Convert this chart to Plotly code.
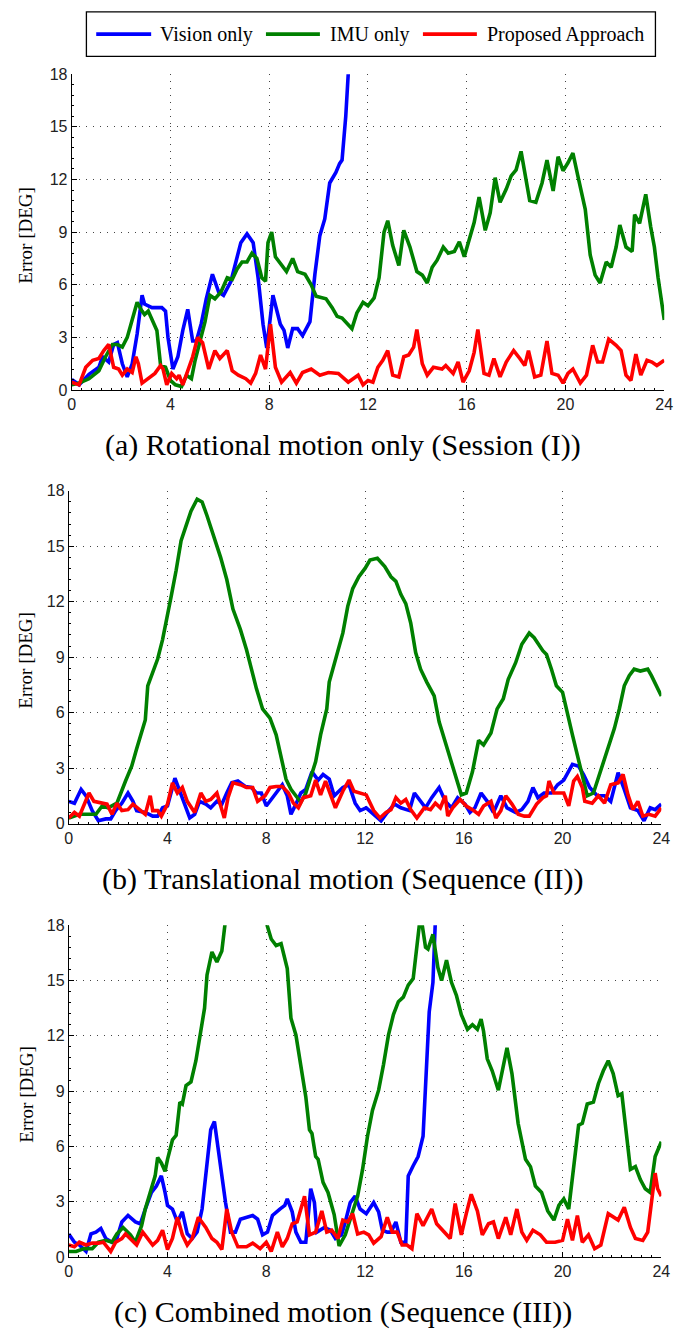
import plotly.graph_objects as go

# ---------------- data (time [s], error [deg]) ----------------
# (a) Rotational motion only
a_vis_t = [0, 0.3, 0.7, 1.1, 1.25, 1.5, 1.7, 1.85, 2.05, 2.25, 2.45, 2.65, 2.85, 2.95, 3.25, 3.65, 3.8, 3.9, 4.1, 4.3, 4.5, 4.7, 4.9, 5.05, 5.25, 5.45, 5.7, 5.95, 6.15, 6.45, 6.85, 7.1, 7.35, 7.55, 7.75, 7.9, 8.15, 8.45, 8.6, 8.75, 8.95, 9.15, 9.35, 9.65, 9.85, 10.05, 10.25, 10.45, 10.7, 10.85, 10.95, 11.1, 11.2, 11.3]
a_vis_e = [0.6, 0.3, 0.9, 1.3, 1.9, 1.6, 2.6, 2.7, 1.5, 0.75, 1.5, 3.2, 5.4, 4.9, 4.7, 4.7, 4.5, 3.0, 1.2, 1.9, 3.4, 4.6, 2.8, 2.8, 3.8, 5.2, 6.6, 5.6, 5.4, 6.2, 8.4, 8.9, 8.4, 6.4, 3.75, 2.4, 5.4, 3.75, 3.4, 2.4, 3.5, 3.5, 3.1, 3.9, 6.6, 8.8, 9.75, 11.8, 12.4, 12.9, 13.1, 15.6, 18.0, 19.5]

a_imu_t = [0, 0.3, 0.7, 1.1, 1.37, 1.65, 1.85, 2.05, 2.25, 2.45, 2.65, 2.85, 2.95, 3.1, 3.3, 3.45, 3.6, 3.8, 4.0, 4.2, 4.45, 4.65, 4.85, 5.0, 5.2, 5.4, 5.6, 5.8, 6.05, 6.3, 6.5, 6.7, 6.9, 7.1, 7.3, 7.5, 7.7, 7.85, 7.95, 8.1, 8.25, 8.5, 8.7, 8.95, 9.15, 9.45, 9.7, 9.9, 10.3, 10.55, 10.75, 10.95, 11.1, 11.35, 11.55, 11.8, 12.0, 12.25, 12.45, 12.65, 12.8, 13.0, 13.25, 13.45, 13.7, 13.98, 14.2, 14.4, 14.6, 14.8, 15.05, 15.25, 15.5, 15.7, 15.9, 16.1, 16.3, 16.5, 16.75, 16.95, 17.15, 17.35, 17.6, 17.8, 18.0, 18.2, 18.55, 18.8, 19.05, 19.25, 19.5, 19.7, 19.9, 20.1, 20.3, 20.5, 20.8, 21.0, 21.2, 21.4, 21.65, 21.85, 22.05, 22.2, 22.45, 22.7, 22.8, 23.0, 23.25, 23.45, 23.6, 23.75, 23.9, 24.0]
a_imu_e = [0.3, 0.4, 0.65, 1.1, 1.9, 2.6, 2.6, 2.45, 3.0, 4.1, 5.0, 4.5, 4.3, 4.5, 3.9, 3.4, 1.4, 1.3, 0.55, 0.3, 0.2, 0.85, 0.65, 1.7, 2.8, 3.9, 5.4, 5.2, 5.6, 6.4, 6.3, 6.9, 7.3, 7.3, 7.8, 7.5, 6.4, 6.2, 8.4, 9.0, 7.6, 7.1, 6.75, 7.5, 6.75, 6.6, 6.0, 5.35, 5.2, 4.7, 4.2, 4.1, 3.9, 3.5, 4.4, 5.0, 4.8, 5.25, 6.4, 9.0, 9.65, 8.25, 7.1, 9.1, 8.15, 6.75, 6.55, 6.1, 7.0, 7.4, 8.15, 7.8, 7.9, 8.45, 7.6, 8.6, 9.55, 11.0, 9.1, 10.1, 12.1, 10.7, 11.45, 12.2, 12.55, 13.6, 10.8, 10.7, 11.8, 13.1, 11.35, 13.3, 12.5, 12.95, 13.5, 12.2, 10.3, 7.7, 6.55, 6.1, 7.3, 7.0, 8.15, 9.4, 8.15, 7.9, 10.0, 9.5, 11.15, 9.3, 8.15, 6.4, 4.9, 4.0]

a_pro_t = [0, 0.3, 0.57, 0.85, 1.1, 1.3, 1.5, 1.7, 1.9, 2.05, 2.25, 2.45, 2.6, 2.7, 2.85, 3.1, 3.37, 3.6, 3.7, 3.85, 4.05, 4.25, 4.35, 4.5, 4.7, 4.9, 5.1, 5.3, 5.55, 5.8, 6.0, 6.15, 6.3, 6.5, 6.75, 7.05, 7.25, 7.45, 7.65, 7.85, 8.05, 8.25, 8.5, 8.85, 9.1, 9.35, 9.7, 10.05, 10.4, 10.8, 11.2, 11.6, 11.8, 12.0, 12.2, 12.4, 12.6, 12.8, 13.0, 13.25, 13.45, 13.65, 13.85, 13.98, 14.2, 14.4, 14.65, 15.0, 15.15, 15.45, 15.65, 15.85, 16.1, 16.3, 16.45, 16.7, 16.9, 17.1, 17.35, 17.6, 17.9, 18.15, 18.35, 18.5, 18.75, 19.0, 19.25, 19.45, 19.7, 19.9, 20.1, 20.3, 20.6, 20.85, 21.1, 21.3, 21.5, 21.75, 22.05, 22.25, 22.45, 22.65, 22.85, 23.05, 23.3, 23.5, 23.7, 24.0]
a_pro_e = [0.45, 0.3, 1.3, 1.7, 1.8, 2.25, 2.6, 1.3, 1.2, 0.85, 1.2, 1.0, 1.9, 1.5, 0.4, 0.65, 0.95, 1.4, 1.2, 0.3, 0.95, 0.65, 0.85, 0.3, 1.1, 1.9, 3.0, 2.7, 1.2, 2.25, 1.8, 2.0, 2.25, 1.1, 0.85, 0.65, 0.4, 0.95, 2.0, 1.2, 3.75, 1.3, 0.45, 1.0, 0.4, 1.0, 1.2, 0.85, 1.0, 0.95, 0.45, 0.85, 0.3, 0.55, 0.45, 1.3, 1.7, 2.25, 0.85, 0.75, 1.9, 2.0, 2.45, 3.45, 1.5, 0.85, 1.3, 1.2, 1.4, 0.95, 1.6, 0.45, 1.1, 2.15, 3.45, 0.95, 0.85, 1.8, 0.75, 1.6, 2.25, 1.8, 1.4, 2.25, 0.75, 0.85, 2.8, 0.95, 0.85, 0.4, 0.95, 1.2, 0.4, 0.85, 2.55, 1.6, 1.6, 2.9, 2.55, 2.25, 0.85, 0.55, 2.05, 0.85, 1.7, 1.6, 1.4, 1.7]

# (b) Translational motion
b_vis_t = [0, 0.23, 0.5, 0.7, 0.95, 1.2, 1.5, 1.7, 1.9, 2.15, 2.4, 2.6, 2.75, 3.1, 3.4, 3.6, 3.8, 4.0, 4.3, 4.5, 4.7, 4.9, 5.1, 5.3, 5.55, 5.75, 6.0, 6.2, 6.4, 6.6, 6.85, 7.15, 7.4, 7.6, 7.8, 8.0, 8.2, 8.45, 8.65, 8.85, 9.0, 9.2, 9.4, 9.6, 9.85, 10.1, 10.3, 10.55, 10.75, 11.1, 11.35, 11.6, 11.8, 12.05, 12.35, 12.65, 12.9, 13.2, 13.45, 13.8, 14.0, 14.25, 14.45, 14.7, 15.0, 15.25, 15.5, 15.75, 16.05, 16.25, 16.45, 16.7, 16.95, 17.2, 17.5, 17.75, 18.1, 18.35, 18.6, 18.8, 19.0, 19.25, 19.55, 19.8, 20.05, 20.4, 20.65, 20.85, 21.1, 21.4, 21.7, 21.95, 22.25, 22.5, 22.75, 23.05, 23.3, 23.55, 23.75, 24.0]
b_vis_e = [1.2, 1.1, 1.85, 1.5, 0.7, 0.15, 0.25, 0.25, 0.7, 1.1, 1.65, 1.2, 0.7, 0.6, 0.4, 0.4, 0.85, 0.95, 2.45, 1.75, 1.05, 0.3, 0.5, 1.2, 1.05, 0.85, 1.2, 1.05, 1.65, 2.2, 2.3, 2.0, 1.95, 1.65, 1.65, 0.95, 1.3, 1.75, 2.1, 1.5, 0.5, 1.05, 1.65, 1.85, 2.8, 2.35, 2.65, 2.4, 1.5, 1.95, 2.1, 1.1, 0.7, 0.85, 0.5, 0.15, 0.6, 1.05, 0.85, 0.7, 1.65, 1.2, 0.85, 1.4, 1.95, 1.2, 0.85, 1.4, 1.05, 0.6, 0.85, 1.65, 1.2, 0.6, 1.5, 0.85, 0.6, 0.75, 1.2, 1.95, 1.4, 1.65, 1.65, 2.1, 2.35, 3.2, 3.1, 2.65, 1.95, 1.5, 1.5, 1.2, 2.75, 1.85, 0.85, 0.7, 0.15, 0.85, 0.75, 1.05]

b_imu_t = [0, 0.23, 0.43, 1.1, 1.35, 1.6, 1.95, 2.3, 2.55, 2.75, 2.95, 3.1, 3.2, 3.4, 3.6, 3.8, 4.0, 4.15, 4.35, 4.55, 4.75, 4.95, 5.2, 5.4, 5.6, 5.9, 6.15, 6.4, 6.65, 6.95, 7.2, 7.4, 7.6, 7.85, 8.15, 8.4, 8.6, 8.8, 9.0, 9.25, 9.4, 9.6, 9.8, 10.0, 10.2, 10.45, 10.55, 10.8, 11.1, 11.3, 11.5, 11.75, 12.0, 12.2, 12.5, 12.8, 13.05, 13.25, 13.45, 13.65, 13.85, 14.05, 14.25, 14.5, 14.8, 15.0, 15.25, 15.5, 15.75, 15.9, 16.1, 16.35, 16.6, 16.8, 17.1, 17.35, 17.6, 17.8, 18.1, 18.35, 18.65, 18.85, 19.2, 19.35, 19.55, 19.75, 20.0, 20.2, 20.4, 20.6, 20.8, 21.0, 21.25, 21.45, 21.7, 21.9, 22.1, 22.3, 22.5, 22.7, 22.9, 23.15, 23.45, 23.6, 23.8, 24.0]
b_imu_e = [0.3, 0.4, 0.5, 0.5, 0.95, 0.85, 1.1, 2.3, 3.1, 4.05, 4.95, 5.6, 7.45, 8.2, 8.9, 9.95, 11.2, 12.3, 13.7, 15.3, 16.1, 16.9, 17.55, 17.4, 16.65, 15.5, 14.4, 13.2, 11.6, 10.5, 9.4, 8.35, 7.3, 6.2, 5.7, 4.8, 3.5, 2.4, 1.85, 1.4, 1.15, 1.65, 2.45, 3.35, 4.8, 6.2, 7.65, 8.9, 10.3, 11.75, 12.7, 13.35, 13.8, 14.25, 14.35, 13.9, 13.35, 13.1, 12.4, 11.9, 10.85, 9.25, 8.35, 7.65, 6.9, 5.5, 4.4, 3.2, 2.1, 1.55, 1.65, 2.8, 4.5, 4.25, 4.9, 6.2, 6.75, 7.8, 8.7, 9.7, 10.3, 10.05, 9.35, 9.15, 8.35, 7.45, 7.1, 5.85, 4.8, 3.7, 2.65, 1.5, 1.65, 2.45, 3.55, 4.25, 5.15, 6.2, 7.45, 8.0, 8.35, 8.25, 8.35, 8.0, 7.45, 6.9]

b_pro_t = [0, 0.23, 0.43, 0.62, 0.82, 1.02, 1.3, 1.55, 1.75, 1.95, 2.15, 2.4, 2.6, 2.9, 3.1, 3.3, 3.4, 3.6, 3.75, 4.0, 4.2, 4.4, 4.6, 4.8, 5.1, 5.35, 5.55, 5.75, 6.0, 6.3, 6.45, 6.65, 6.95, 7.2, 7.45, 7.65, 7.95, 8.15, 8.4, 8.65, 8.9, 9.1, 9.3, 9.5, 9.8, 10.0, 10.2, 10.4, 10.6, 10.8, 11.1, 11.35, 11.55, 11.8, 12.05, 12.35, 12.6, 12.85, 13.05, 13.25, 13.45, 13.65, 13.85, 14.1, 14.4, 14.65, 14.85, 15.05, 15.25, 15.35, 15.55, 15.85, 16.1, 16.35, 16.6, 16.8, 17.1, 17.3, 17.5, 17.7, 17.95, 18.2, 18.45, 18.65, 18.95, 19.2, 19.35, 19.45, 19.65, 19.85, 20.05, 20.25, 20.45, 20.6, 20.8, 20.9, 21.2, 21.45, 21.7, 21.95, 22.25, 22.45, 22.65, 22.85, 23.05, 23.25, 23.5, 23.75, 24.0]
b_pro_e = [0.3, 0.6, 0.4, 1.05, 1.65, 1.2, 1.1, 1.05, 0.5, 1.1, 0.7, 0.75, 1.05, 0.7, 0.5, 1.5, 0.7, 0.7, 0.4, 1.05, 2.2, 1.65, 1.95, 1.2, 0.6, 1.65, 1.2, 1.3, 1.65, 0.3, 1.4, 2.2, 2.1, 1.95, 1.95, 1.2, 1.5, 1.95, 2.0, 2.0, 1.65, 1.1, 0.85, 1.4, 1.5, 2.35, 1.55, 2.3, 1.6, 0.85, 1.75, 2.35, 1.75, 1.65, 1.55, 0.7, 0.3, 0.6, 0.75, 1.4, 1.1, 1.3, 0.75, 0.3, 0.85, 0.75, 1.1, 0.85, 1.5, 0.4, 0.85, 1.3, 0.95, 0.75, 0.5, 0.95, 1.2, 0.3, 0.7, 1.5, 1.05, 0.5, 0.4, 0.4, 1.05, 1.4, 1.5, 2.3, 1.65, 1.65, 1.65, 0.95, 2.3, 2.55, 1.95, 1.2, 1.1, 1.5, 1.1, 2.1, 2.2, 2.65, 1.55, 0.75, 1.2, 0.4, 0.5, 0.4, 0.85]

# (c) Combined motion
c_vis_t = [0, 0.23, 0.43, 0.7, 0.9, 1.1, 1.3, 1.5, 1.75, 1.95, 2.15, 2.4, 2.7, 2.9, 3.1, 3.35, 3.55, 3.75, 3.9, 4.0, 4.2, 4.4, 4.6, 4.8, 5.0, 5.2, 5.4, 5.6, 5.75, 5.9, 6.05, 6.2, 6.35, 6.55, 6.75, 6.95, 7.2, 7.45, 7.65, 7.85, 8.05, 8.25, 8.55, 8.75, 8.85, 9.05, 9.2, 9.4, 9.6, 9.8, 9.95, 10.05, 10.35, 10.6, 10.8, 11.05, 11.2, 11.4, 11.6, 11.8, 12.05, 12.35, 12.55, 12.7, 12.9, 13.05, 13.25, 13.45, 13.65, 13.75, 13.95, 14.15, 14.35, 14.5, 14.6, 14.75, 14.8, 14.9]
c_vis_e = [1.25, 0.8, 0.65, 0.3, 1.25, 1.35, 1.55, 1.0, 0.8, 1.0, 1.9, 2.25, 1.9, 1.8, 2.6, 3.5, 3.85, 4.4, 3.5, 2.8, 2.6, 1.9, 2.45, 1.25, 1.0, 1.35, 2.6, 4.95, 6.9, 7.35, 5.8, 4.2, 2.95, 1.35, 1.35, 2.05, 2.15, 2.25, 2.05, 1.2, 1.35, 2.25, 2.6, 2.8, 3.15, 2.45, 1.35, 0.8, 0.8, 3.7, 2.95, 1.35, 1.6, 1.45, 1.0, 1.2, 1.9, 2.95, 3.3, 2.6, 2.35, 2.95, 2.45, 1.45, 1.35, 1.35, 1.9, 0.8, 0.8, 4.4, 4.95, 5.45, 6.55, 10.1, 13.3, 14.9, 18.2, 20.0]

c_imu_t = [0, 0.3, 0.62, 0.95, 1.2, 1.5, 1.75, 1.95, 2.2, 2.5, 2.7, 2.95, 3.1, 3.3, 3.5, 3.6, 3.75, 3.9, 4.0, 4.2, 4.35, 4.5, 4.6, 4.75, 4.95, 5.15, 5.35, 5.5, 5.6, 5.8, 6.0, 6.2, 6.35, 6.6, 7.1, 7.6, 8.0, 8.2, 8.4, 8.6, 8.85, 9.0, 9.2, 9.4, 9.6, 9.75, 9.85, 10.0, 10.1, 10.3, 10.5, 10.75, 10.95, 11.2, 11.45, 11.7, 11.9, 12.1, 12.3, 12.55, 12.75, 12.95, 13.15, 13.35, 13.55, 13.75, 13.95, 14.1, 14.25, 14.45, 14.55, 14.75, 14.95, 15.1, 15.3, 15.5, 15.7, 15.9, 16.15, 16.35, 16.55, 16.7, 16.8, 16.95, 17.15, 17.4, 17.55, 17.75, 17.95, 18.2, 18.5, 18.7, 18.9, 19.15, 19.4, 19.65, 19.85, 20.05, 20.25, 20.45, 20.65, 20.8, 21.0, 21.25, 21.45, 21.65, 21.85, 22.05, 22.25, 22.4, 22.55, 22.75, 22.95, 23.15, 23.35, 23.55, 23.75, 24.0]
c_imu_e = [0.3, 0.3, 0.45, 0.45, 0.8, 0.9, 0.8, 1.25, 1.6, 1.2, 0.8, 1.7, 2.6, 3.5, 4.4, 5.4, 5.1, 4.65, 5.3, 6.35, 6.6, 8.4, 8.3, 9.3, 9.5, 10.65, 12.4, 13.5, 15.3, 16.55, 16.0, 16.6, 18.3, 20.5, 22.0, 21.0, 18.15, 17.25, 16.9, 17.0, 15.65, 12.95, 12.05, 10.45, 8.7, 6.9, 6.7, 5.45, 5.3, 4.05, 3.5, 2.3, 0.6, 1.2, 2.25, 3.3, 4.75, 6.55, 7.95, 9.05, 10.45, 12.05, 13.15, 13.85, 14.1, 14.75, 15.1, 16.7, 18.6, 16.8, 16.7, 17.5, 15.7, 15.0, 16.1, 14.9, 14.2, 13.15, 12.35, 12.6, 12.35, 12.9, 12.25, 10.75, 10.1, 9.05, 10.1, 11.35, 9.95, 7.25, 5.3, 4.9, 3.85, 3.5, 2.5, 2.0, 2.8, 3.15, 2.6, 5.1, 7.15, 7.25, 8.3, 8.4, 9.4, 10.1, 10.65, 9.95, 8.75, 8.85, 6.9, 4.75, 4.9, 4.2, 3.7, 3.5, 5.45, 6.25]

c_pro_t = [0, 0.23, 0.43, 0.7, 0.95, 1.2, 1.4, 1.7, 1.9, 2.15, 2.3, 2.5, 2.75, 3.0, 3.2, 3.4, 3.6, 3.8, 4.0, 4.2, 4.4, 4.6, 4.8, 5.0, 5.25, 5.55, 5.8, 6.0, 6.2, 6.4, 6.6, 6.85, 7.2, 7.45, 7.75, 8.0, 8.2, 8.45, 8.65, 8.85, 9.05, 9.25, 9.55, 9.75, 10.0, 10.25, 10.45, 10.65, 10.9, 11.1, 11.3, 11.5, 11.7, 11.95, 12.15, 12.35, 12.65, 12.9, 13.1, 13.3, 13.5, 13.7, 13.9, 14.1, 14.35, 14.7, 14.9, 15.15, 15.45, 15.65, 15.9, 16.1, 16.3, 16.55, 16.75, 17.0, 17.2, 17.4, 17.7, 17.9, 18.15, 18.35, 18.55, 18.8, 19.1, 19.35, 19.7, 20.0, 20.2, 20.4, 20.6, 20.8, 21.05, 21.3, 21.55, 21.85, 22.05, 22.25, 22.5, 22.75, 22.95, 23.25, 23.45, 23.75, 23.85, 24.0]
c_pro_e = [0.65, 0.55, 0.8, 0.65, 0.75, 0.75, 0.8, 0.3, 0.8, 1.0, 1.25, 1.0, 0.65, 1.35, 1.0, 0.65, 0.9, 1.45, 0.4, 1.0, 2.15, 1.2, 0.65, 1.0, 2.15, 1.6, 1.0, 0.8, 0.4, 2.6, 1.35, 0.55, 0.55, 0.75, 0.45, 0.8, 0.3, 1.35, 0.55, 1.0, 1.8, 1.9, 3.3, 1.2, 1.35, 2.5, 1.35, 1.45, 1.0, 2.0, 1.9, 2.35, 1.25, 1.35, 1.2, 0.75, 1.1, 2.15, 1.35, 1.35, 0.65, 0.65, 0.45, 2.35, 1.7, 2.6, 1.8, 1.45, 1.0, 2.9, 1.2, 2.35, 3.4, 2.5, 1.2, 1.8, 1.9, 1.0, 2.15, 1.2, 2.6, 1.35, 0.9, 1.45, 1.2, 0.8, 0.8, 0.9, 2.05, 0.9, 2.25, 0.8, 1.2, 0.45, 0.65, 2.35, 2.15, 2.0, 2.7, 1.6, 1.0, 0.9, 1.35, 4.55, 3.7, 3.3]

series_names = ["Vision only", "IMU only", "Proposed Approach"]
series_colors = ["#0000FF", "#008000", "#FF0000"]
captions = ["(a) Rotational motion only (Session (I))",
            "(b) Translational motion (Sequence (II))",
            "(c) Combined motion (Sequence (III))"]
y_ticks = [0, 3, 6, 9, 12, 15, 18]
x_ticks = [0, 4, 8, 12, 16, 20, 24]

panels = [
    [(a_vis_t, a_vis_e), (a_imu_t, a_imu_e), (a_pro_t, a_pro_e)],
    [(b_vis_t, b_vis_e), (b_imu_t, b_imu_e), (b_pro_t, b_pro_e)],
    [(c_vis_t, c_vis_e), (c_imu_t, c_imu_e), (c_pro_t, c_pro_e)],
]

# ---------------- layout geometry (pixels) ----------------
W, H = 687, 1341
px_x = [(69, 673), (66, 670), (66, 670)]
px_y = [(67, 387), (489, 826), (929, 1265)]   # top, bottom
caption_y = [443, 882, 1321]

def fx(p): return p / W
def fy(p): return 1 - p / H

fig = go.Figure()
layout = dict(width=W, height=H, margin=dict(l=0, r=0, t=0, b=0),
              paper_bgcolor="white", plot_bgcolor="white", showlegend=False)

annotations = []
shapes = []
for i, panel in enumerate(panels):
    k = "" if i == 0 else str(i + 1)
    for (t, e), name, col in zip(panel, series_names, series_colors):
        fig.add_trace(go.Scatter(x=t, y=e, mode="lines", name=name,
                                 line=dict(color=col, width=3.6),
                                 xaxis="x" + k, yaxis="y" + k, showlegend=False))
    axcommon = dict(showline=True, linecolor="black", linewidth=1, mirror=False,
                    ticks="inside", ticklen=5, tickcolor="black",
                    showgrid=True, gridcolor="#444444", gridwidth=1, griddash="1px,6px",
                    zeroline=False, fixedrange=True,
                    tickfont=dict(family="Liberation Sans", size=16, color="#222222"))
    layout["xaxis" + k] = dict(axcommon, domain=[fx(px_x[i][0]), fx(px_x[i][1])],
                               range=[0, 24], tickvals=x_ticks, anchor="y" + k,
                               minor=dict(ticks="inside", ticklen=2, dtick=0.4, tickcolor="black", showgrid=False))
    layout["yaxis" + k] = dict(axcommon, domain=[fy(px_y[i][1]), fy(px_y[i][0])],
                               range=[0, 18], tickvals=y_ticks, anchor="x" + k,
                               minor=dict(ticks="inside", ticklen=2, dtick=0.6, tickcolor="black", showgrid=False))
    annotations.append(dict(text="Error [DEG]", xref="paper", yref="paper",
                            x=fx(22), y=fy((px_y[i][0] + px_y[i][1]) / 2 + 3),
                            textangle=-90, showarrow=False, xanchor="center", yanchor="middle",
                            font=dict(family="Liberation Serif", size=19, color="black")))
    annotations.append(dict(text=captions[i], xref="paper", yref="paper",
                            x=fx(346), y=fy(caption_y[i]), showarrow=False,
                            xanchor="center", yanchor="middle",
                            font=dict(family="Liberation Serif", size=30, color="black")))

# manual legend box
shapes.append(dict(type="rect", xref="paper", yref="paper",
                   x0=fx(84), x1=fx(664), y0=fy(49), y1=fy(4),
                   line=dict(color="black", width=1.3), fillcolor="white"))
leg_lines = [(94, 150, 157), (267, 322, 330), (427, 482, 490)]
for (x0, x1, xt), name, col in zip(leg_lines, series_names, series_colors):
    shapes.append(dict(type="line", xref="paper", yref="paper",
                       x0=fx(x0), x1=fx(x1), y0=fy(26.5), y1=fy(26.5),
                       line=dict(color=col, width=3.6)))
    annotations.append(dict(text=name, xref="paper", yref="paper", x=fx(xt), y=fy(27),
                            showarrow=False, xanchor="left", yanchor="middle",
                            font=dict(family="Liberation Serif", size=20, color="black")))

layout["annotations"] = annotations
layout["shapes"] = shapes
fig.update_layout(**layout)
fig.write_html("out.html")
